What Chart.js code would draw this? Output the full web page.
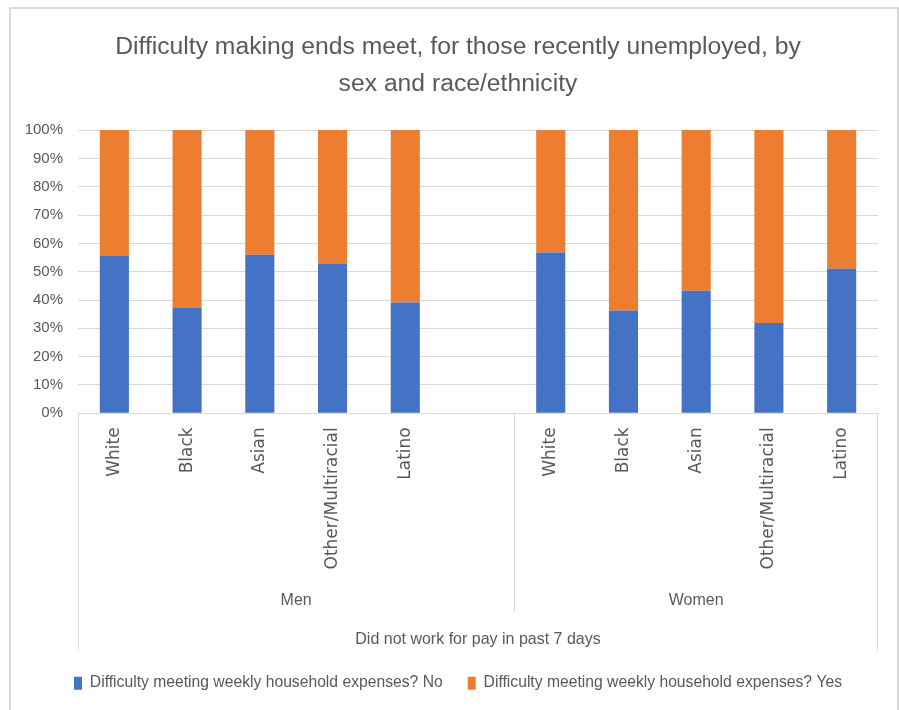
<!DOCTYPE html>
<html lang="en">
<head>
<meta charset="UTF-8">
<title>Difficulty making ends meet</title>
<script src="https://cdn.jsdelivr.net/npm/chart.js@4"></script>
<style>
  html, body { margin: 0; padding: 0; background: #fff; overflow: hidden; }
  #wrap { position: relative; width: 899px; height: 710px; overflow: hidden; }
  #myChart { display: block; }
  #frame { position: absolute; left: 9px; top: 7px; width: 886px; height: 720px; border: 2px solid #d9d9d9; pointer-events: none; }
</style>
</head>
<body>
<div id="wrap">
  <canvas id="myChart" width="899" height="710"></canvas>
  <div id="frame"></div>
</div>
<script>
// data (percent of group)
var categories = ['White', 'Black', 'Asian', 'Other/Multiracial', 'Latino', '', 'White', 'Black', 'Asian', 'Other/Multiracial', 'Latino'];
var noValues = [55.5, 37.2, 56.0, 52.9, 39.1, null, 56.8, 36.3, 43.3, 31.9, 51.0];
var yesValues = [44.5, 62.8, 44.0, 47.1, 60.9, null, 43.2, 63.7, 56.7, 68.1, 49.0];
var groupNames = ['Men', 'Women'];
var groupFirst = [0, 6];
var groupLast = [5, 10];
var topLabel = 'Did not work for pay in past 7 days';
var seriesNames = ['Difficulty meeting weekly household expenses? No', 'Difficulty meeting weekly household expenses? Yes'];
var yTicks = [0, 10, 20, 30, 40, 50, 60, 70, 80, 90, 100];

var textColor = '#595959';
var lineColor = '#d9d9d9';
var fontName = "'Liberation Sans', Arial, sans-serif";

// draws the extra category levels (Men / Women, and the outer label) under the x axis
var groupAxis = {
    id: 'groupAxis',
    afterDraw: function(chart) {
        var x = chart.scales.x;
        var ctx = chart.ctx;
        var step = x.getPixelForTick(1) - x.getPixelForTick(0);
        var top = x.top;
        ctx.save();
        ctx.strokeStyle = lineColor;
        ctx.lineWidth = 1;
        ctx.fillStyle = textColor;
        ctx.font = '16px ' + fontName;
        ctx.textAlign = 'center';
        ctx.textBaseline = 'middle';

        // outer edges reach down to the last level
        ctx.beginPath();
        ctx.moveTo(Math.round(x.left) + 0.5, top);
        ctx.lineTo(Math.round(x.left) + 0.5, top + 237);
        ctx.moveTo(Math.round(x.right) - 0.5, top);
        ctx.lineTo(Math.round(x.right) - 0.5, top + 237);
        ctx.stroke();

        groupNames.forEach(function(name, i) {
            var a = x.getPixelForTick(groupFirst[i]) - step / 2;
            var b = x.getPixelForTick(groupLast[i]) + step / 2;
            if (i > 0) {
                ctx.beginPath();
                ctx.moveTo(Math.round(a) + 0.5, top);
                ctx.lineTo(Math.round(a) + 0.5, top + 199);
                ctx.stroke();
            }
            ctx.fillText(name, (a + b) / 2, top + 187);
        });

        ctx.fillText(topLabel, (x.left + x.right) / 2, top + 226);
        ctx.restore();
    }
};

var ctx = document.getElementById('myChart').getContext('2d');
var myChart = new Chart(ctx, {
    type: 'bar',
    data: {
        labels: categories,
        datasets: [{
            label: seriesNames[0],
            data: noValues,
            backgroundColor: '#4472C4'
        }, {
            label: seriesNames[1],
            data: yesValues,
            backgroundColor: '#ED7D31'
        }]
    },
    options: {
        responsive: false,
        animation: false,
        categoryPercentage: 1,
        barPercentage: 0.4,
        layout: { padding: { left: 25, right: 8, top: 0, bottom: 9 } },
        plugins: {
            title: {
                display: true,
                text: ['Difficulty making ends meet, for those recently unemployed, by', 'sex and race/ethnicity'],
                color: textColor,
                font: { family: fontName, size: 24.7, weight: 'normal', lineHeight: 1.5 },
                padding: { top: 28.5, bottom: 27.5 }
            },
            legend: {
                position: 'bottom',
                labels: {
                    color: textColor,
                    font: { family: fontName, size: 15.7 },
                    boxWidth: 8,
                    boxHeight: 13,
                    padding: 25
                }
            },
            tooltip: { enabled: false }
        },
        scales: {
            x: {
                stacked: true,
                grid: { display: false },
                border: { display: true, color: lineColor },
                ticks: {
                    color: textColor,
                    font: { family: "'DejaVu Sans', sans-serif", size: 17 },
                    minRotation: 90,
                    maxRotation: 90,
                    autoSkip: false,
                    padding: 6
                },
                afterFit: function(scale) { scale.height = 237; }
            },
            y: {
                stacked: true,
                min: 0,
                max: 100,
                afterBuildTicks: function(scale) {
                    scale.ticks = yTicks.map(function(v) { return { value: v }; });
                },
                afterFit: function(scale) { scale.width = 53; },
                grid: { color: lineColor, lineWidth: 1, drawTicks: false },
                border: { display: false },
                ticks: {
                    color: textColor,
                    font: { family: fontName, size: 15 },
                    padding: 15,
                    callback: function(v) { return v + '%'; }
                }
            },
            // empty spacer on the right so the plot ends where the reference's does
            spacer: {
                position: 'right',
                grid: { display: false },
                border: { display: false },
                ticks: { display: false },
                afterFit: function(scale) { scale.width = 13; }
            }
        }
    },
    plugins: [groupAxis]
});
</script>
</body>
</html>
